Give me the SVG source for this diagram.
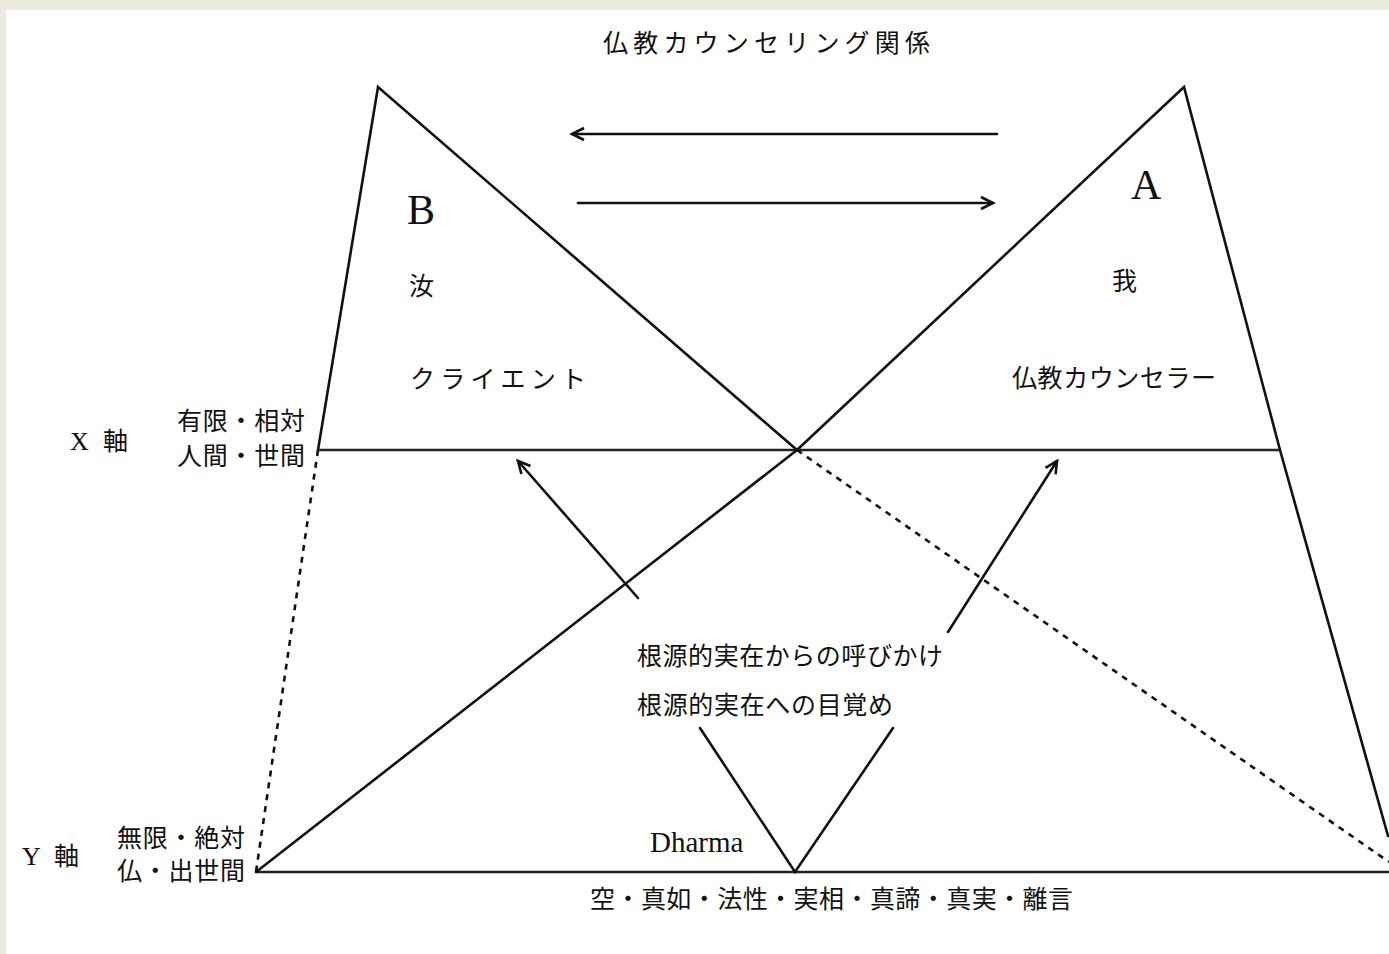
<svg xmlns="http://www.w3.org/2000/svg" width="1389" height="954" viewBox="0 0 1389 954">
<style>
.jp{font-family:"Noto Sans CJK JP","Noto Sans",sans-serif;font-size:25px;fill:#111}
.lat{font-family:"Liberation Serif",serif;fill:#111}
.ln{stroke:#111;stroke-width:2.6;fill:none;stroke-linecap:round;stroke-linejoin:miter}
.ax{stroke:#222;stroke-width:2.6;fill:none}
.ds{stroke:#111;stroke-width:2.6;fill:none;stroke-dasharray:6 6}
</style>
<defs>
<marker id="ah" markerUnits="userSpaceOnUse" markerWidth="18" markerHeight="16" refX="15" refY="8" orient="auto">
<path d="M3,2 L15,8 L3,14" fill="none" stroke="#111" stroke-width="2.6"/>
</marker>
</defs>
<rect x="0" y="0" width="1389" height="954" fill="#edeae0"/>
<rect x="6" y="10" width="1383" height="944" fill="#ffffff"/>

<g id="title"><text class="jp" x="603" y="52" textLength="327" lengthAdjust="spacing">仏教カウンセリング関係</text></g>

<g id="node-B">
<polyline class="ln" points="318,450 378,87 797,450"/>
<text class="lat" x="407" y="224" font-size="42">B</text>
<text class="jp" x="409" y="295">汝</text>
<text class="jp" x="410" y="388" textLength="176" lengthAdjust="spacing">クライエント</text>
</g>

<g id="node-A">
<polyline class="ln" points="797,450 1184,87 1280,450 1388,836"/>
<text class="lat" x="1131" y="199" font-size="42">A</text>
<text class="jp" x="1112" y="290">我</text>
<text class="jp" x="1012" y="387" textLength="204" lengthAdjust="spacing">仏教カウンセラー</text>
</g>

<g id="x-axis">
<line class="ax" x1="318" y1="450" x2="1280" y2="450"/>
<text class="lat" x="70" y="450" font-size="26">X</text>
<text class="jp" x="103" y="450">軸</text>
<text class="jp" x="177" y="430" textLength="128" lengthAdjust="spacing">有限・相対</text>
<text class="jp" x="177" y="465" textLength="128" lengthAdjust="spacing">人間・世間</text>
</g>

<g id="y-axis">
<line class="ax" x1="256" y1="872" x2="1389" y2="872"/>
<text class="lat" x="22" y="865" font-size="26">Y</text>
<text class="jp" x="54" y="865">軸</text>
<text class="jp" x="117" y="847" textLength="128" lengthAdjust="spacing">無限・絶対</text>
<text class="jp" x="117" y="880" textLength="128" lengthAdjust="spacing">仏・出世間</text>
<text class="jp" x="590" y="908" textLength="483" lengthAdjust="spacing">空・真如・法性・実相・真諦・真実・離言</text>
</g>

<g id="center-labels">
<text class="jp" x="637" y="665" textLength="306" lengthAdjust="spacing">根源的実在からの呼びかけ</text>
<text class="jp" x="637" y="714" textLength="256" lengthAdjust="spacing">根源的実在への目覚め</text>
<text class="lat" x="650" y="852" font-size="29">Dharma</text>
</g>

<g id="connectors">
<line class="ln" x1="797" y1="450" x2="256" y2="872"/>
<line class="ds" x1="318" y1="450" x2="256" y2="872"/>
<line class="ds" x1="797" y1="450" x2="1389" y2="862"/>
<line class="ln" x1="997" y1="134" x2="572" y2="134" marker-end="url(#ah)"/>
<line class="ln" x1="578" y1="203" x2="993" y2="203" marker-end="url(#ah)"/>
<line class="ln" x1="638" y1="598" x2="518" y2="461" marker-end="url(#ah)"/>
<line class="ln" x1="948" y1="632" x2="1057" y2="461" marker-end="url(#ah)"/>
<polyline class="ln" points="700,728 795,872 893,728"/>
</g>
</svg>
